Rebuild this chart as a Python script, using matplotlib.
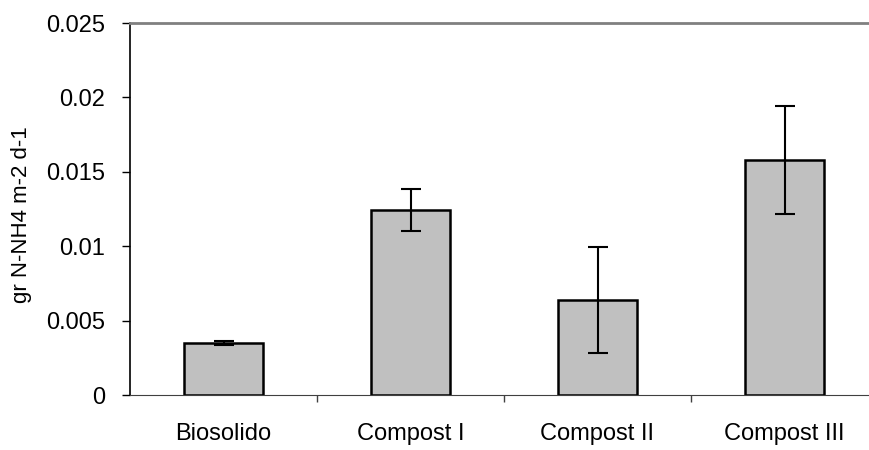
import numpy as np
import matplotlib.pyplot as plt

# data
categories = ["Biosolido", "Compost I", "Compost II", "Compost III"]
values = [0.0035, 0.01243, 0.00638, 0.01579]
errors = [0.00015, 0.00142, 0.00357, 0.00363]
yticks = [0, 0.005, 0.01, 0.015, 0.02, 0.025]
ytick_labels = ["0", "0.005", "0.01", "0.015", "0.02", "0.025"]

plt.rcParams['font.family'] = ['Liberation Sans Narrow', 'Liberation Sans', 'DejaVu Sans']

fig = plt.figure(figsize=(8.69, 4.5), dpi=100)
ax = fig.add_axes([130/869, 1-395/450, 748/869, 372/450])

x = np.arange(len(categories))
ax.bar(x, values, width=0.42, color="#C0C0C0", edgecolor="black", linewidth=1.8,
       yerr=errors, capsize=7, error_kw=dict(elinewidth=1.5, capthick=1.5, ecolor="black"))

ax.set_xlim(-0.5, 3.5)
ax.set_ylim(0, 0.025)
ax.set_yticks(yticks)
ax.set_yticklabels(ytick_labels, fontsize=17)
ax.set_xticks(x)
ax.set_xticklabels(categories, fontsize=17)
ax.set_xticks([0.5, 1.5, 2.5], minor=True)
ax.tick_params(axis="x", which="major", length=0, pad=20)
ax.tick_params(axis="x", which="minor", length=5, width=1, color="#404040")
ax.tick_params(axis="y", length=6, width=1, pad=12)

ax.spines["right"].set_visible(False)
ax.spines["top"].set_color("#808080")
ax.spines["top"].set_linewidth(2)
ax.spines["left"].set_linewidth(1.2)
ax.spines["bottom"].set_color("#404040")

fig.text(22/869, 1-215/450, "gr N-NH4 m-2 d-1", rotation=90, fontsize=16,
         ha="center", va="center")

fig.savefig("out.png", dpi=100)
